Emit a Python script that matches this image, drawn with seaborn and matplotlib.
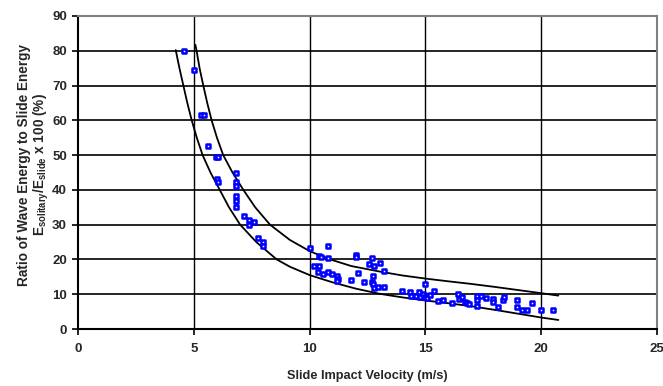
import matplotlib
matplotlib.use("Agg")
import matplotlib.pyplot as plt
import seaborn as sns
import pandas as pd

# ---- data ----
velocity = [4.57, 5.0, 5.33, 5.45, 5.61, 5.95, 6.05, 6.02, 6.05,
            6.82, 6.82, 6.82, 6.82, 6.82, 6.82,
            7.17, 7.38, 7.6, 7.38, 7.77, 7.99, 7.99,
            10.02, 10.78, 10.41, 10.5, 10.78, 10.2, 10.42, 10.35, 10.6, 10.78,
            10.98, 11.17, 11.24, 11.17, 11.79, 12.0, 12.0, 12.1, 12.36, 12.68,
            12.58, 12.8, 13.02, 12.75, 12.68, 12.75, 12.78, 12.97, 13.2, 13.2,
            13.97, 14.33, 14.38, 14.74, 14.6, 14.77, 14.9, 15.0, 14.98, 15.05,
            15.2, 15.37, 15.56, 15.77, 16.13, 16.39, 16.46, 16.6, 16.7, 16.8,
            16.9, 17.21, 17.21, 17.21, 17.4, 17.62, 17.93, 17.93, 18.15, 18.36,
            18.4, 18.97, 18.97, 19.15, 19.37, 19.59, 19.98, 20.52]
ratio = [80.0, 74.6, 61.5, 61.5, 52.6, 49.4, 49.4, 43.0, 42.3,
         45.0, 42.3, 41.2, 38.2, 36.8, 35.2,
         32.6, 31.2, 30.9, 30.0, 26.3, 25.0, 23.9,
         23.4, 24.0, 21.0, 20.6, 20.5, 18.2, 18.2, 16.5, 15.9, 16.5,
         15.9, 15.1, 14.3, 13.9, 14.1, 21.4, 20.7, 16.2, 13.6, 20.5,
         18.7, 18.1, 18.9, 15.3, 13.6, 13.0, 11.7, 12.1, 12.2, 16.6,
         11.0, 10.5, 9.6, 10.5, 9.6, 9.3, 10.0, 9.3, 12.8, 8.8,
         9.8, 11.0, 8.1, 8.3, 7.6, 10.2, 8.5, 9.3, 7.9, 7.6,
         7.3, 9.6, 8.4, 6.7, 9.6, 9.0, 8.5, 7.7, 6.4, 8.3,
         9.3, 8.3, 6.4, 5.6, 5.6, 7.4, 5.6, 5.6]

upper_x = [5.07, 5.12, 5.25, 5.41, 5.58, 5.77, 6.0, 6.27, 6.67, 7.14, 7.65,
           8.29, 9.15, 10.0, 10.8, 11.8, 13.04, 14.0, 15.0, 16.0, 16.93,
           18.0, 19.0, 20.0, 20.74]
upper_y = [81.7, 80.0, 75.0, 70.0, 65.0, 60.0, 55.0, 50.0, 45.0, 40.0, 35.0,
           30.0, 25.6, 22.4, 20.2, 18.1, 16.5, 15.4, 14.5, 13.7, 13.0,
           12.1, 11.2, 10.3, 9.6]
lower_x = [4.22, 4.38, 4.55, 4.72, 4.91, 5.13, 5.38, 5.72, 6.12, 6.52, 7.0,
           7.7, 8.58, 9.15, 10.0, 11.0, 12.0, 13.04, 14.0, 15.0, 16.0,
           16.93, 18.0, 19.0, 20.0, 20.74]
lower_y = [80.2, 75.0, 70.0, 65.0, 60.0, 55.0, 50.0, 45.0, 40.0, 35.0, 30.0,
           25.0, 20.0, 17.9, 15.5, 13.4, 11.6, 10.1, 9.1, 8.2, 7.4,
           6.6, 5.5, 4.4, 3.3, 2.6]

x_ticks = [0, 5, 10, 15, 20, 25]
y_ticks = [0, 10, 20, 30, 40, 50, 60, 70, 80, 90]

# ---- style ----
sns.set_theme(style="ticks")
plt.rcParams['font.family'] = ['Liberation Sans', 'DejaVu Sans']
plt.rcParams['font.weight'] = 'bold'
plt.rcParams['mathtext.fontset'] = 'custom'
plt.rcParams['mathtext.rm'] = 'Liberation Sans:bold'
plt.rcParams['mathtext.it'] = 'Liberation Sans:bold'
plt.rcParams['mathtext.bf'] = 'Liberation Sans:bold'

fig = plt.figure(figsize=(6.63, 3.86), dpi=100)
ax = fig.add_axes([78 / 663, 1 - 329 / 386, (657 - 78) / 663, (329 - 16) / 386])
ax.set_facecolor("white")

pts = pd.DataFrame({"v": velocity, "r": ratio})
up = pd.DataFrame({"x": upper_x, "y": upper_y})
lo = pd.DataFrame({"x": lower_x, "y": lower_y})

# gridlines
for yv in y_ticks[1:-1]:
    ax.axhline(yv, color="black", lw=1.2, zorder=1)
for xv in x_ticks[1:-1]:
    ax.axvline(xv, color="black", lw=1.0, zorder=1)

sns.lineplot(data=up, x="x", y="y", sort=False, color="black", lw=1.3, ax=ax, zorder=3)
sns.lineplot(data=lo, x="x", y="y", sort=False, color="black", lw=1.3, ax=ax, zorder=3)
sns.scatterplot(data=pts, x="v", y="r", marker="s", s=9, facecolor="white",
                edgecolor="#0000FF", linewidth=1.8, ax=ax, zorder=4)

ax.set_xlim(0, 25)
ax.set_ylim(0, 90)
ax.set_xticks(x_ticks)
ax.set_yticks(y_ticks)
ax.tick_params(axis="both", direction="out", length=4, width=1.2, color="black",
               labelsize=9.5)
ax.tick_params(axis="y", pad=4)
ax.tick_params(axis="x", pad=6)
for lab in ax.get_xticklabels() + ax.get_yticklabels():
    lab.set_fontweight("bold")
    lab.set_fontsize(9.5)

for s in ["left", "bottom"]:
    ax.spines[s].set_color("black")
    ax.spines[s].set_linewidth(1.5)
for s in ["top", "right"]:
    ax.spines[s].set_color("#808080")
    ax.spines[s].set_linewidth(1.5)

ax.set_xlabel("Slide Impact Velocity (m/s)", fontsize=9.2, fontweight="bold")
ax.xaxis.set_label_coords(0.5, -(370 - 329) / 313)
ax.set_ylabel("")

ylab_line1 = "Ratio of Wave Energy to Slide Energy"
ylab_line2 = r"E$_{\mathrm{solitary}}$/E$_{\mathrm{slide}}$ x 100 (%)"
fig.text(24 / 663, 1 - 165 / 386, ylab_line1, rotation=90, ha="center",
         va="center", fontsize=9.8, fontweight="bold")
fig.text(41 / 663, 1 - 165 / 386, ylab_line2, rotation=90, ha="center",
         va="center", fontsize=9.8, fontweight="bold")

fig.savefig("out.png", dpi=100)
